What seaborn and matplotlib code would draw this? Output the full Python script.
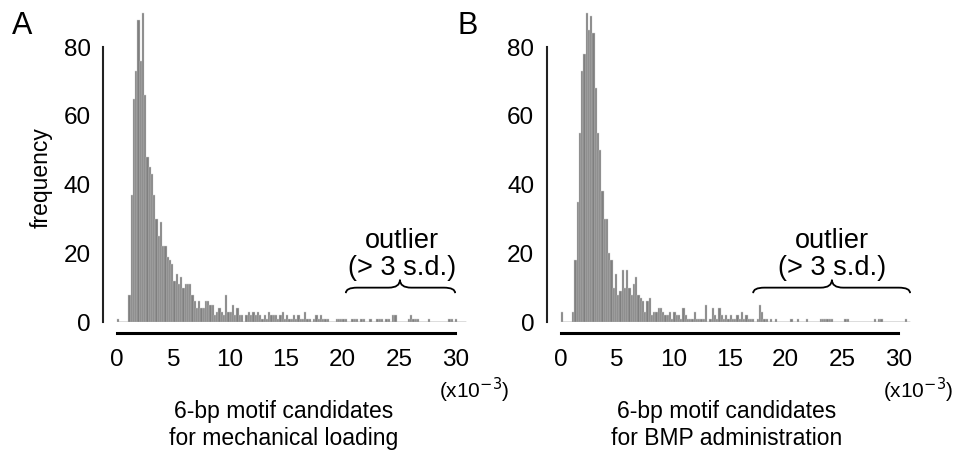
import numpy as np
import pandas as pd
import seaborn as sns
from matplotlib import pyplot as plt
from matplotlib.path import Path
from matplotlib.patches import PathPatch

sns.set_style("white")
plt.rcParams['font.family'] = ['Liberation Sans', 'DejaVu Sans']
plt.rcParams['text.color'] = 'black'
plt.rcParams['xtick.color'] = 'black'
plt.rcParams['ytick.color'] = 'black'

# bin width 0.2 (x10^-3), bins start at 0
bin_width = 0.2

counts_mech = [
    1, 0, 0, 0, 0, 8, 37, 65, 73, 88,
    76, 90, 66, 48, 45, 43, 37, 30, 25, 29,
    22, 22, 19, 18, 17, 12, 14, 11, 13, 10,
    11, 11, 11, 8, 6, 4, 6, 4, 4, 6,
    6, 5, 5, 2, 3, 4, 3, 2, 8, 3,
    3, 5, 2, 4, 2, 2, 0, 2, 3, 2,
    3, 2, 3, 2, 1, 2, 1, 3, 2, 2,
    2, 1, 2, 3, 1, 2, 1, 1, 2, 1,
    2, 1, 1, 3, 1, 1, 0, 1, 2, 1,
    2, 1, 1, 1, 0, 0, 0, 1, 1, 1,
    1, 1, 0, 0, 1, 1, 1, 0, 1, 1,
    0, 0, 1, 0, 0, 1, 1, 1, 0, 1,
    1, 0, 2, 2, 0, 0, 0, 0, 0, 1,
    2, 1, 1, 1, 0, 0, 0, 0, 1, 0,
    0, 0, 0, 0, 0, 0, 0, 1, 1, 0,
    1, 0, 0, 0, 0,
]

counts_bmp = [
    3, 0, 0, 0, 0, 3, 18, 35, 55, 73,
    78, 90, 85, 89, 84, 68, 55, 50, 38, 30,
    30, 20, 18, 10, 14, 8, 9, 15, 10, 15,
    10, 8, 11, 13, 8, 7, 6, 3, 6, 7,
    2, 3, 3, 4, 4, 3, 2, 2, 3, 1,
    3, 2, 2, 1, 4, 2, 1, 1, 1, 3,
    1, 1, 1, 1, 5, 0, 1, 4, 2, 1,
    4, 2, 1, 2, 1, 2, 1, 1, 2, 1,
    3, 1, 2, 1, 1, 1, 0, 1, 5, 3,
    1, 1, 0, 1, 0, 1, 0, 0, 0, 0,
    0, 0, 1, 0, 0, 1, 0, 0, 0, 1,
    0, 0, 0, 0, 0, 1, 1, 1, 1, 1,
    1, 0, 0, 0, 0, 0, 1, 1, 0, 0,
    0, 0, 0, 0, 0, 0, 0, 0, 0, 1,
    0, 1, 1, 0, 0, 0, 0, 0, 0, 0,
    0, 0, 0, 1, 0,
]

xlabels = ["6-bp motif candidates\nfor mechanical loading",
           "6-bp motif candidates\nfor BMP administration"]
panel_letters = ["A", "B"]
# outlier range (start, brace tip, end) per panel
outlier_ranges = [(20.3, 25.1, 30.0), (17.1, 24.1, 31.05)]
outlier_text_x = [25.3, 24.1]

xticks = [0, 5, 10, 15, 20, 25, 30]
yticks = [0, 20, 40, 60, 80]


def brace(ax, x0, xm, x1, y0=8.4, y1=10.0, y2=12.3, q=1.0):
    verts = [(x0, y0), (x0, y1), (x0 + q, y1),
             (xm - q, y1),
             (xm, y1), (xm, y2),
             (xm, y1), (xm + q, y1),
             (x1 - q, y1),
             (x1, y1), (x1, y0)]
    codes = [Path.MOVETO, Path.CURVE3, Path.CURVE3,
             Path.LINETO,
             Path.CURVE3, Path.CURVE3,
             Path.CURVE3, Path.CURVE3,
             Path.LINETO,
             Path.CURVE3, Path.CURVE3]
    ax.add_patch(PathPatch(Path(verts, codes), fill=False, lw=1.3,
                           color="black", clip_on=False))


fig = plt.figure(figsize=(9.57, 4.54), dpi=100)
axes = [fig.add_axes([0.1199, 0.2907, 0.3722, 0.6966]),
        fig.add_axes([0.5836, 0.2907, 0.3715, 0.6966])]

for i, (ax, counts) in enumerate(zip(axes, [counts_mech, counts_bmp])):
    edges = np.linspace(0, bin_width * len(counts), len(counts) + 1)
    df = pd.DataFrame({"x": (edges[:-1] + edges[1:]) / 2, "n": counts})
    sns.histplot(data=df, x="x", weights="n", bins=len(counts),
                 binrange=(edges[0], edges[-1]), ax=ax,
                 color="#7f7f7f", edgecolor="#cfcfcf", linewidth=0.3,
                 alpha=1)
    ax.hlines(0, edges[0], edges[-1], color="#7f7f7f", lw=1)

    ax.set_xlim(-0.2, 31.4)
    ax.set_ylim(0, 92)
    ax.set_xticks(xticks)
    ax.set_yticks(yticks)
    ax.set_xlabel(None)
    ax.set_ylabel(None)

    sns.despine(ax=ax, offset={"left": 8.4, "bottom": 8.1})
    ax.spines["left"].set_bounds(0, 80)
    ax.spines["bottom"].set_bounds(0, 30)
    ax.spines["left"].set_linewidth(1.5)
    ax.spines["left"].set_color("#222222")
    ax.spines["bottom"].set_linewidth(2.2)
    ax.spines["bottom"].set_color("black")

    ax.tick_params(axis="x", direction="out", length=4.5, width=0.8,
                   color="#888888", labelcolor="black", labelsize=17.5, pad=7)
    ax.tick_params(axis="y", direction="out", length=2, width=0.8,
                   color="#444444", labelcolor="black", labelsize=17.5, pad=7)

    ax.text(28.6, -0.215, "(x10$^{-3}$)", transform=ax.get_xaxis_transform(),
            ha="left", va="center", fontsize=15)
    ax.text(0.473, -0.2466, xlabels[i], transform=ax.transAxes,
            ha="center", va="top", fontsize=16.5, linespacing=1.2)

    x0, xm, x1 = outlier_ranges[i]
    brace(ax, x0, xm, x1)
    ax.text(outlier_text_x[i], 19.5, "outlier\n(> 3 s.d.)", ha="center",
            va="center", fontsize=19.5, linespacing=1.05)

fig.text(53 / 957, 1 - 177.5 / 454, "frequency", rotation=90, ha="right",
         va="center", fontsize=16.5)
fig.text(12 / 957, 1 - 26 / 454, panel_letters[0], ha="left", va="center",
         fontsize=22)
fig.text(457 / 957, 1 - 26 / 454, panel_letters[1], ha="left", va="center",
         fontsize=22)

plt.savefig("out.png", dpi=100)
